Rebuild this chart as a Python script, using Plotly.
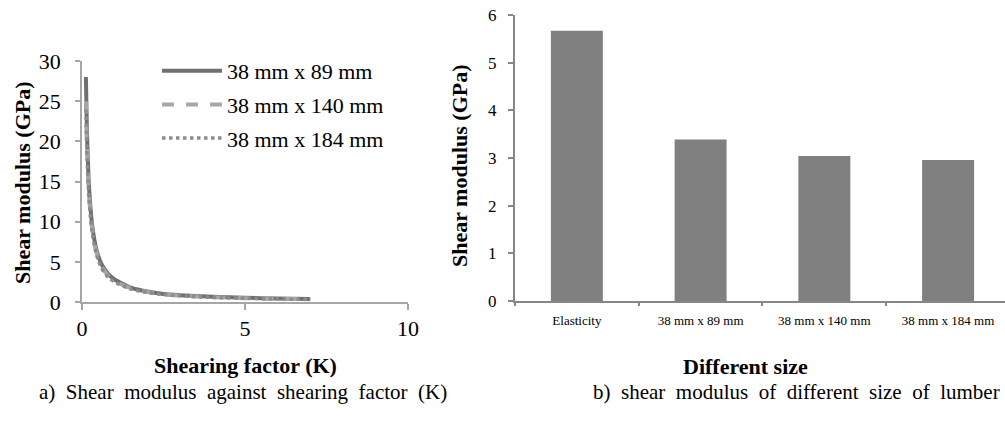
import plotly.graph_objects as go

# ---- data: left chart (shear modulus vs shearing factor) ----
K_values = [0.12, 0.15, 0.2, 0.25, 0.3, 0.4, 0.5, 0.6, 0.8, 1.0, 1.5, 2.0, 2.5, 3.0, 4.0, 5.0, 6.0, 7.0]
G_89 = [28.0, 21.5, 15.5, 12.3, 10.0, 7.3, 5.7, 4.7, 3.5, 2.8, 1.8, 1.3, 1.0, 0.85, 0.65, 0.52, 0.43, 0.37]
G_140 = [25.0, 19.5, 14.3, 11.4, 9.4, 6.9, 5.4, 4.4, 3.3, 2.6, 1.7, 1.25, 0.97, 0.8, 0.6, 0.48, 0.4, 0.34]
G_184 = [24.0, 18.8, 13.8, 11.0, 9.0, 6.6, 5.2, 4.2, 3.1, 2.5, 1.6, 1.2, 0.93, 0.77, 0.57, 0.46, 0.38, 0.32]
series_names = ["38 mm x 89 mm", "38 mm x 140 mm", "38 mm x 184 mm"]

# ---- data: right chart (bar) ----
bar_categories = ["Elasticity", "38 mm x 89 mm", "38 mm x 140 mm", "38 mm x 184 mm"]
bar_values = [5.67, 3.39, 3.04, 2.96]

left_ticks_x = [0, 5, 10]
left_ticks_y = [0, 5, 10, 15, 20, 25, 30]
right_ticks_y = [0, 1, 2, 3, 4, 5, 6]

FONT = "Liberation Serif, Times New Roman, Times, serif"
W, H = 1005, 422

fig = go.Figure()

styles = [
    dict(color="#6f6f6f", width=4, dash="solid"),
    dict(color="#a6a6a6", width=4, dash="dash"),
    dict(color="#8c8c8c", width=3.5, dash="dot"),
]
for i, (name, ys) in enumerate(zip(series_names, [G_89, G_140, G_184])):
    fig.add_trace(go.Scatter(
        x=K_values, y=ys, name=name, mode="lines",
        line=dict(shape="spline", smoothing=0.6, **styles[i]),
        xaxis="x", yaxis="y", legendgroup=f"g{i}",
    ))

fig.add_trace(go.Bar(
    x=bar_categories, y=bar_values, marker=dict(color="#808080", line=dict(width=0)),
    width=0.42, xaxis="x2", yaxis="y2", showlegend=False,
))

def px_x(p):
    return p / W

def px_y(p):
    return 1 - p / H

fig.update_layout(
    width=W, height=H, autosize=False,
    margin=dict(l=0, r=0, t=0, b=0, pad=0, autoexpand=False),
    paper_bgcolor="white", plot_bgcolor="white",
    font=dict(family=FONT, color="#000000"),
    showlegend=True,
    legend=dict(
        x=px_x(157), y=px_y(50), xanchor="left", yanchor="top",
        font=dict(family=FONT, size=22, color="#000000"),
        bgcolor="rgba(0,0,0,0)", tracegroupgap=2, itemwidth=60,
    ),
    xaxis=dict(
        domain=[px_x(82), px_x(408)], range=[0, 10], tickvals=left_ticks_x,
        showline=True, linecolor="#a6a6a6", linewidth=1.5,
        ticks="outside", ticklen=6, tickcolor="#a6a6a6", tickwidth=1.5,
        showgrid=False, zeroline=False, anchor="y", automargin=False,
        tickfont=dict(family=FONT, size=22, color="#000000"),
    ),
    yaxis=dict(
        domain=[px_y(302), px_y(61)], range=[0, 30], tickvals=left_ticks_y,
        showline=True, linecolor="#a6a6a6", linewidth=1.5,
        ticks="outside", ticklen=5, tickcolor="#a6a6a6", tickwidth=1.5,
        showgrid=False, zeroline=False, anchor="x", automargin=False,
        ticklabelstandoff=10,
        tickfont=dict(family=FONT, size=22, color="#000000"),
    ),
    xaxis2=dict(
        domain=[px_x(515), 1.0], range=[-0.5, 3.46], type="category",
        showline=True, linecolor="#868686", linewidth=2,
        ticks="outside", ticklen=3, tickcolor="#868686", tickwidth=2,
        tickson="boundaries", showgrid=False, zeroline=False, anchor="y2",
        automargin=False, ticklabelstandoff=6,
        tickfont=dict(family=FONT, size=13, color="#000000"),
    ),
    yaxis2=dict(
        domain=[px_y(301), px_y(15)], range=[0, 6], tickvals=right_ticks_y,
        showline=True, linecolor="#868686", linewidth=2,
        ticks="outside", ticklen=5, tickcolor="#868686", tickwidth=2,
        showgrid=False, zeroline=False, anchor="x2", automargin=False,
        ticklabelstandoff=8,
        tickfont=dict(family=FONT, size=17, color="#000000"),
    ),
)

sp = "&nbsp;&nbsp;"
annotations = [
    dict(text="<b>Shear modulus (GPa)</b>", x=px_x(22), y=px_y(183), textangle=-90,
         font=dict(size=22)),
    dict(text="<b>Shearing factor (K)</b>", x=px_x(245), y=px_y(365), font=dict(size=22)),
    dict(text="<b>Shear modulus (GPa)</b>", x=px_x(460), y=px_y(166), textangle=-90,
         font=dict(size=22)),
    dict(text="<b>Different size</b>", x=px_x(745), y=px_y(366), font=dict(size=22)),
    dict(text=sp.join("a) Shear modulus against shearing factor (K)".split(" ")),
         x=px_x(37), y=px_y(392), xanchor="left", font=dict(size=21)),
    dict(text=sp.join("b) shear modulus of different size of lumber".split(" ")),
         x=px_x(1002), y=px_y(392), xanchor="right", font=dict(size=21)),
]
for a in annotations:
    a.setdefault("xanchor", "center")
    a.update(xref="paper", yref="paper", yanchor="middle", showarrow=False)
    a["font"] = dict(family=FONT, color="#000000", **a["font"])
fig.update_layout(annotations=annotations)

fig.write_html("out.html", config={"displayModeBar": False},
               post_script="document.body.style.margin='0';")
